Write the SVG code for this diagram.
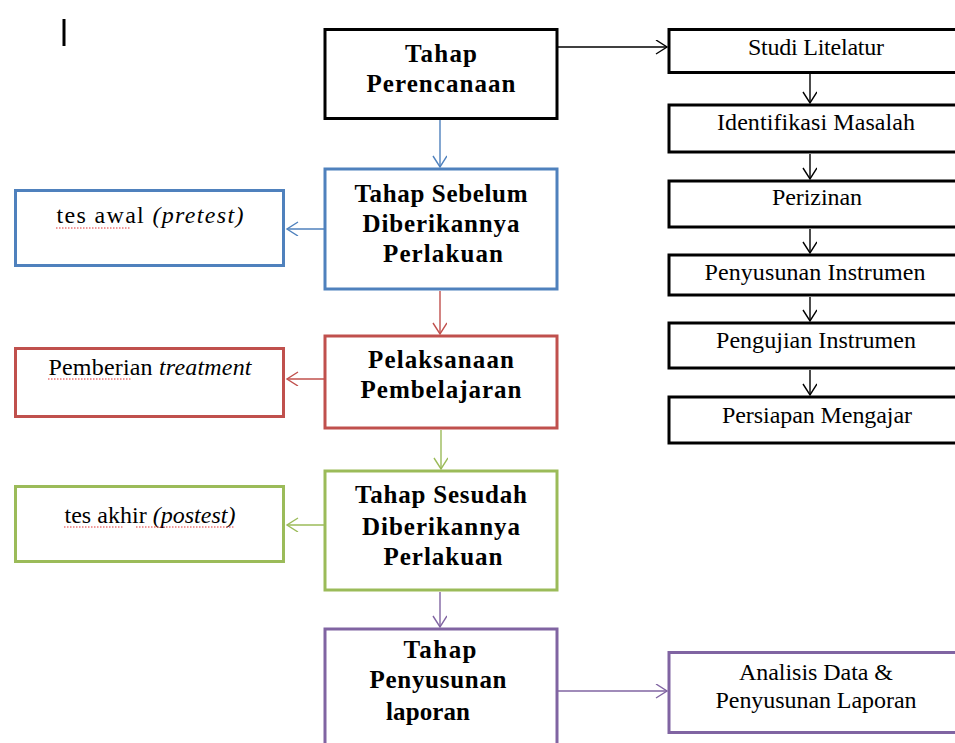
<svg xmlns="http://www.w3.org/2000/svg" width="955" height="743" viewBox="0 0 955 743" font-family="'Liberation Serif', 'DejaVu Serif', serif">
<style>
.box{fill:#fff;stroke-width:3}
.k{stroke:#000}.b{stroke:#4F81BD}.r{stroke:#C0504D}.g{stroke:#9BBB59}.p{stroke:#8064A2}
text{font-family:'Liberation Serif','DejaVu Serif',serif;fill:#000;text-anchor:middle}
.bold{font-weight:bold;font-size:25px}
.n{font-size:24px}
.it{font-style:italic}
.c{fill:none;stroke-width:1.4}
.sq{fill:none;stroke:#e03030;stroke-width:1;stroke-dasharray:1.5 1.5}
</style>
<defs>
<marker id="ak" markerUnits="userSpaceOnUse" markerWidth="14" markerHeight="16" refX="12" refY="7" orient="auto"><path d="M1,0 L12,7 L1,14" fill="none" stroke="#000" stroke-width="1.4"/></marker>
<marker id="ab" markerUnits="userSpaceOnUse" markerWidth="14" markerHeight="16" refX="12" refY="7" orient="auto"><path d="M1,0 L12,7 L1,14" fill="none" stroke="#4F81BD" stroke-width="1.4"/></marker>
<marker id="ar" markerUnits="userSpaceOnUse" markerWidth="14" markerHeight="16" refX="12" refY="7" orient="auto"><path d="M1,0 L12,7 L1,14" fill="none" stroke="#C0504D" stroke-width="1.4"/></marker>
<marker id="ag" markerUnits="userSpaceOnUse" markerWidth="14" markerHeight="16" refX="12" refY="7" orient="auto"><path d="M1,0 L12,7 L1,14" fill="none" stroke="#9BBB59" stroke-width="1.4"/></marker>
<marker id="ap" markerUnits="userSpaceOnUse" markerWidth="14" markerHeight="16" refX="12" refY="7" orient="auto"><path d="M1,0 L12,7 L1,14" fill="none" stroke="#8064A2" stroke-width="1.4"/></marker>
</defs>
<rect width="955" height="743" fill="#fff"/>
<line x1="64" y1="19" x2="64" y2="46" stroke="#000" stroke-width="3"/>

<g id="connectors">
<line class="c" x1="440" y1="120" x2="440" y2="167" stroke="#4F81BD" marker-end="url(#ab)"/>
<line class="c" x1="324" y1="229" x2="287" y2="229" stroke="#4F81BD" marker-end="url(#ab)"/>
<line class="c" x1="440" y1="291" x2="440" y2="334" stroke="#C0504D" marker-end="url(#ar)"/>
<line class="c" x1="324" y1="379" x2="287" y2="379" stroke="#C0504D" marker-end="url(#ar)"/>
<line class="c" x1="441" y1="430" x2="441" y2="469" stroke="#9BBB59" marker-end="url(#ag)"/>
<line class="c" x1="324" y1="525" x2="287" y2="525" stroke="#9BBB59" marker-end="url(#ag)"/>
<line class="c" x1="440" y1="592" x2="440" y2="627" stroke="#8064A2" marker-end="url(#ap)"/>
<line class="c" x1="558" y1="691" x2="667" y2="691" stroke="#8064A2" marker-end="url(#ap)"/>
<line class="c" x1="558" y1="47" x2="667" y2="47" stroke="#000" marker-end="url(#ak)"/>
<line class="c" x1="810" y1="74" x2="810" y2="103" stroke="#000" marker-end="url(#ak)"/>
<line class="c" x1="810" y1="154" x2="810" y2="179" stroke="#000" marker-end="url(#ak)"/>
<line class="c" x1="810" y1="229" x2="810" y2="253" stroke="#000" marker-end="url(#ak)"/>
<line class="c" x1="810" y1="297" x2="810" y2="321" stroke="#000" marker-end="url(#ak)"/>
<line class="c" x1="810" y1="370" x2="810" y2="395" stroke="#000" marker-end="url(#ak)"/>
</g>

<g id="perencanaan">
<rect class="box k" x="325" y="29.5" width="232" height="89"/>
<text class="bold" x="441" y="62" textLength="72" lengthAdjust="spacing">Tahap</text>
<text class="bold" x="441" y="92" textLength="149" lengthAdjust="spacing">Perencanaan</text>
</g>

<g id="sebelum">
<rect class="box b" x="325" y="169" width="232" height="120"/>
<text class="bold" x="441" y="202" textLength="173" lengthAdjust="spacing">Tahap Sebelum</text>
<text class="bold" x="441" y="232" textLength="157" lengthAdjust="spacing">Diberikannya</text>
<text class="bold" x="443" y="262" textLength="120" lengthAdjust="spacing">Perlakuan</text>
</g>

<g id="pretest">
<rect class="box b" x="15.5" y="190.5" width="268" height="75"/>
<text class="n" x="150" y="223" textLength="187" lengthAdjust="spacing">tes awal <tspan class="it">(pretest)</tspan></text>
<path class="sq" d="M56,228 H131"/>
</g>

<g id="pelaksanaan">
<rect class="box r" x="325" y="336" width="232" height="92"/>
<text class="bold" x="441" y="368" textLength="146" lengthAdjust="spacing">Pelaksanaan</text>
<text class="bold" x="441" y="398" textLength="161" lengthAdjust="spacing">Pembelajaran</text>
</g>

<g id="treatment">
<rect class="box r" x="15.5" y="348.5" width="268" height="68"/>
<text class="n" x="150" y="375" textLength="203" lengthAdjust="spacing">Pemberian <tspan class="it">treatment</tspan></text>
<path class="sq" d="M48,379 H132"/>
</g>

<g id="sesudah">
<rect class="box g" x="325" y="471" width="232" height="119"/>
<text class="bold" x="441" y="503" textLength="172" lengthAdjust="spacing">Tahap Sesudah</text>
<text class="bold" x="441" y="535" textLength="158" lengthAdjust="spacing">Diberikannya</text>
<text class="bold" x="443" y="565" textLength="119" lengthAdjust="spacing">Perlakuan</text>
</g>

<g id="posttest">
<rect class="box g" x="15.5" y="486.5" width="268" height="75"/>
<text class="n" x="150" y="523" textLength="171" lengthAdjust="spacing">tes akhir <tspan class="it">(postest)</tspan></text>
<path class="sq" d="M64,527 H123 M136,527 H235"/>
</g>

<g id="penyusunan">
<rect class="box p" x="325" y="629" width="232" height="130"/>
<text class="bold" x="440" y="658" textLength="73" lengthAdjust="spacing">Tahap</text>
<text class="bold" x="438" y="688" textLength="137" lengthAdjust="spacing">Penyusunan</text>
<text class="bold" x="428" y="720" textLength="84" lengthAdjust="spacing">laporan</text>
</g>

<g id="analisis">
<rect class="box p" x="669" y="652.5" width="300" height="80"/>
<text class="n" x="816" y="680" textLength="154" lengthAdjust="spacing">Analisis Data &amp;</text>
<text class="n" x="816" y="708" textLength="201" lengthAdjust="spacing">Penyusunan Laporan</text>
</g>

<g id="studi">
<rect class="box k" x="669" y="29.5" width="300" height="43"/>
<text class="n" x="816" y="55" textLength="136" lengthAdjust="spacing">Studi Litelatur</text>
</g>
<g id="identifikasi">
<rect class="box k" x="669" y="105" width="300" height="47"/>
<text class="n" x="816" y="130" textLength="198" lengthAdjust="spacing">Identifikasi Masalah</text>
</g>
<g id="perizinan">
<rect class="box k" x="669" y="181" width="300" height="46"/>
<text class="n" x="817" y="205" textLength="90" lengthAdjust="spacing">Perizinan</text>
</g>
<g id="penyusunan-instrumen">
<rect class="box k" x="669" y="255" width="300" height="40"/>
<text class="n" x="815" y="280" textLength="221" lengthAdjust="spacing">Penyusunan Instrumen</text>
</g>
<g id="pengujian">
<rect class="box k" x="669" y="323" width="300" height="45"/>
<text class="n" x="816" y="348" textLength="200" lengthAdjust="spacing">Pengujian Instrumen</text>
</g>
<g id="persiapan">
<rect class="box k" x="669" y="397" width="300" height="46"/>
<text class="n" x="817" y="423" textLength="190" lengthAdjust="spacing">Persiapan Mengajar</text>
</g>
</svg>
